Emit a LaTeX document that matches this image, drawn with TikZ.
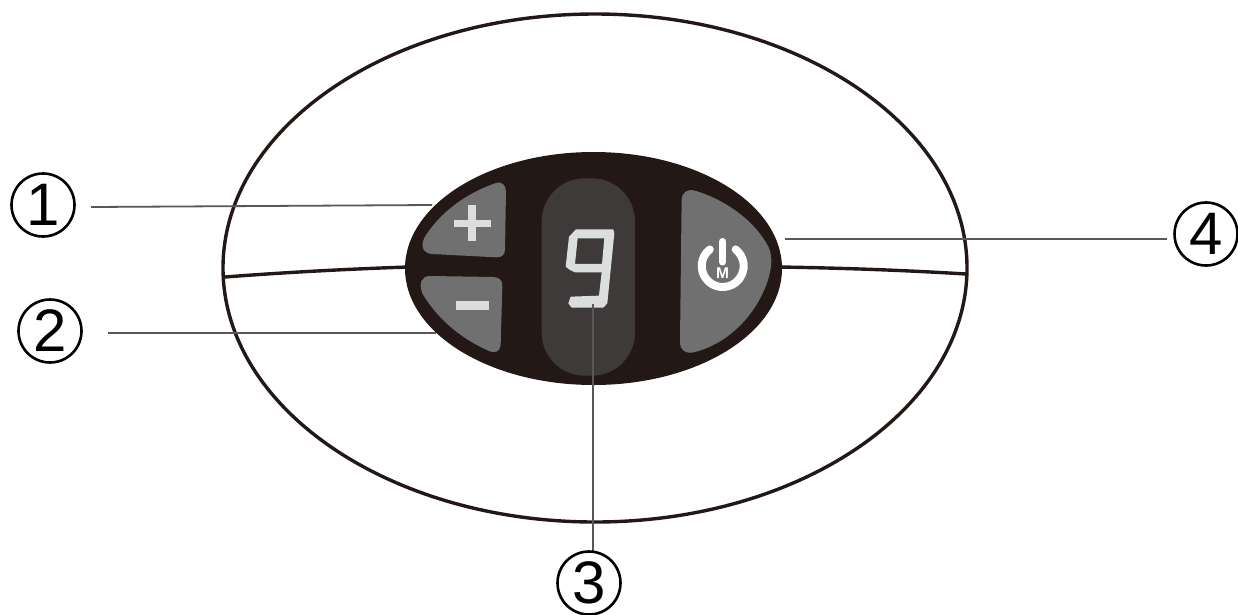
\documentclass[tikz,border=0pt]{standalone}
\usepackage{fontspec}
\setmainfont{Liberation Sans}
\definecolor{ink}{HTML}{231815}
\definecolor{btn}{HTML}{717071}
\definecolor{disp}{HTML}{3E3A39}
\definecolor{seg}{HTML}{DCDDDD}
\definecolor{lead}{HTML}{595757}
\tikzset{
  callout/.style={circle,draw=black,line width=2.6pt,minimum size=63pt,inner sep=0pt,font=\fontsize{60}{60}\selectfont},
  leader/.style={draw=lead,line width=1.8pt},
  rim/.style={draw=ink,line width=3.4pt},
  key/.style={fill=btn},
  glyph/.style={fill=seg},
  zoomed/.style={shift={(400,140)},x=0.3333pt,y=-0.3333pt}
}
\begin{document}
\begin{tikzpicture}[x=1pt,y=-1pt]
\useasboundingbox (0,0) rectangle (1238,614);
\fill[white] (0,0) rectangle (1238,614);
\coordinate (l1a) at (91,207); \coordinate (l1b) at (432,205);
\coordinate (l2a) at (108,333); \coordinate (l2b) at (436,333);
\coordinate (l3a) at (593,304); \coordinate (l3b) at (593,553);
\coordinate (l4a) at (785,239); \coordinate (l4b) at (1167,239);
% casing
\draw[rim] (595,268) ellipse [x radius=372,y radius=254];
\coordinate (sl1) at (225,277); \coordinate (sl2) at (408,267);
\coordinate (sr1) at (780,267); \coordinate (sr2) at (966,274);
\draw[rim] (sl1) .. controls (290,272) and (350,269) .. (sl2);
\draw[rim] (sr1) .. controls (840,268) and (900,270) .. (sr2);
\draw[leader] (l1a) -- (l1b);
\draw[leader] (l2a) -- (l2b);
\draw[leader] (l4a) -- (l4b);
% panel
\fill[ink] (593.5,268.5) ellipse [x radius=188.5,y radius=116.5];
\begin{scope}[zoomed]
  % plus key
  \fill[key] (318,155) .. controls (318,135) and (305,122) .. (285,130)
    .. controls (195,162) and (125,215) .. (78,285)
    .. controls (58,315) and (68,340) .. (95,342)
    -- (290,352) .. controls (305,352) and (314,345) .. (315,330) -- cycle;
  % minus key
  \fill[key] (90,408) -- (280,411) .. controls (300,412) and (308,422) .. (307,440)
    -- (302,615) .. controls (300,635) and (285,642) .. (265,632)
    .. controls (170,590) and (105,525) .. (67,460)
    .. controls (55,430) and (65,408) .. (90,408) -- cycle;
  % power key
  \fill[key] (845,180) .. controls (846,158) and (860,146) .. (885,152)
    .. controls (985,182) and (1070,250) .. (1106,322)
    .. controls (1118,350) and (1116,380) .. (1104,420)
    .. controls (1068,530) and (980,612) .. (885,636)
    .. controls (860,644) and (840,630) .. (840,610) -- cycle;
  % display
  \fill[disp,rounded corners=43pt] (425,115) rectangle (705,707);
  % digit 9
  \fill[glyph,even odd rule] (528,268) -- (640,268) -- (643,280) -- (622,490) -- (610,503)
    -- (515,503) -- (505,490) -- (512,470) -- (597,467) -- (605,397) -- (525,397)
    -- (510,390) -- (497,380) -- (507,290) -- cycle
    (533,295) -- (613,295) -- (606,372) -- (525,372) -- cycle;
  % plus and minus signs
  \fill[glyph] (163,240) rectangle (272,260);
  \fill[glyph] (205,195) rectangle (228,303);
  \fill[glyph] (168,483) rectangle (267,511);
\end{scope}
% power symbol
\coordinate (pw) at (722.7,266);
\draw[white,line width=8pt,line cap=round] ([shift={(232:21)}]pw) arc [start angle=232,end angle=-52,radius=21];
\draw[white,line width=7pt,line cap=round] (722.5,241.5) -- (722.5,262);
\node[text=white,font=\fontsize{15.5}{15.5}\selectfont\bfseries,inner sep=0pt] (mlabel) at (722.5,273.5) {M};
\draw[leader] (l3a) -- (l3b);
% callouts
\node[callout] (c1) at (43,205) {1};
\node[callout] (c2) at (50,331) {2};
\node[callout] (c3) at (589,583) {3};
\node[callout] (c4) at (1206,234) {4};
\end{tikzpicture}
\end{document}
